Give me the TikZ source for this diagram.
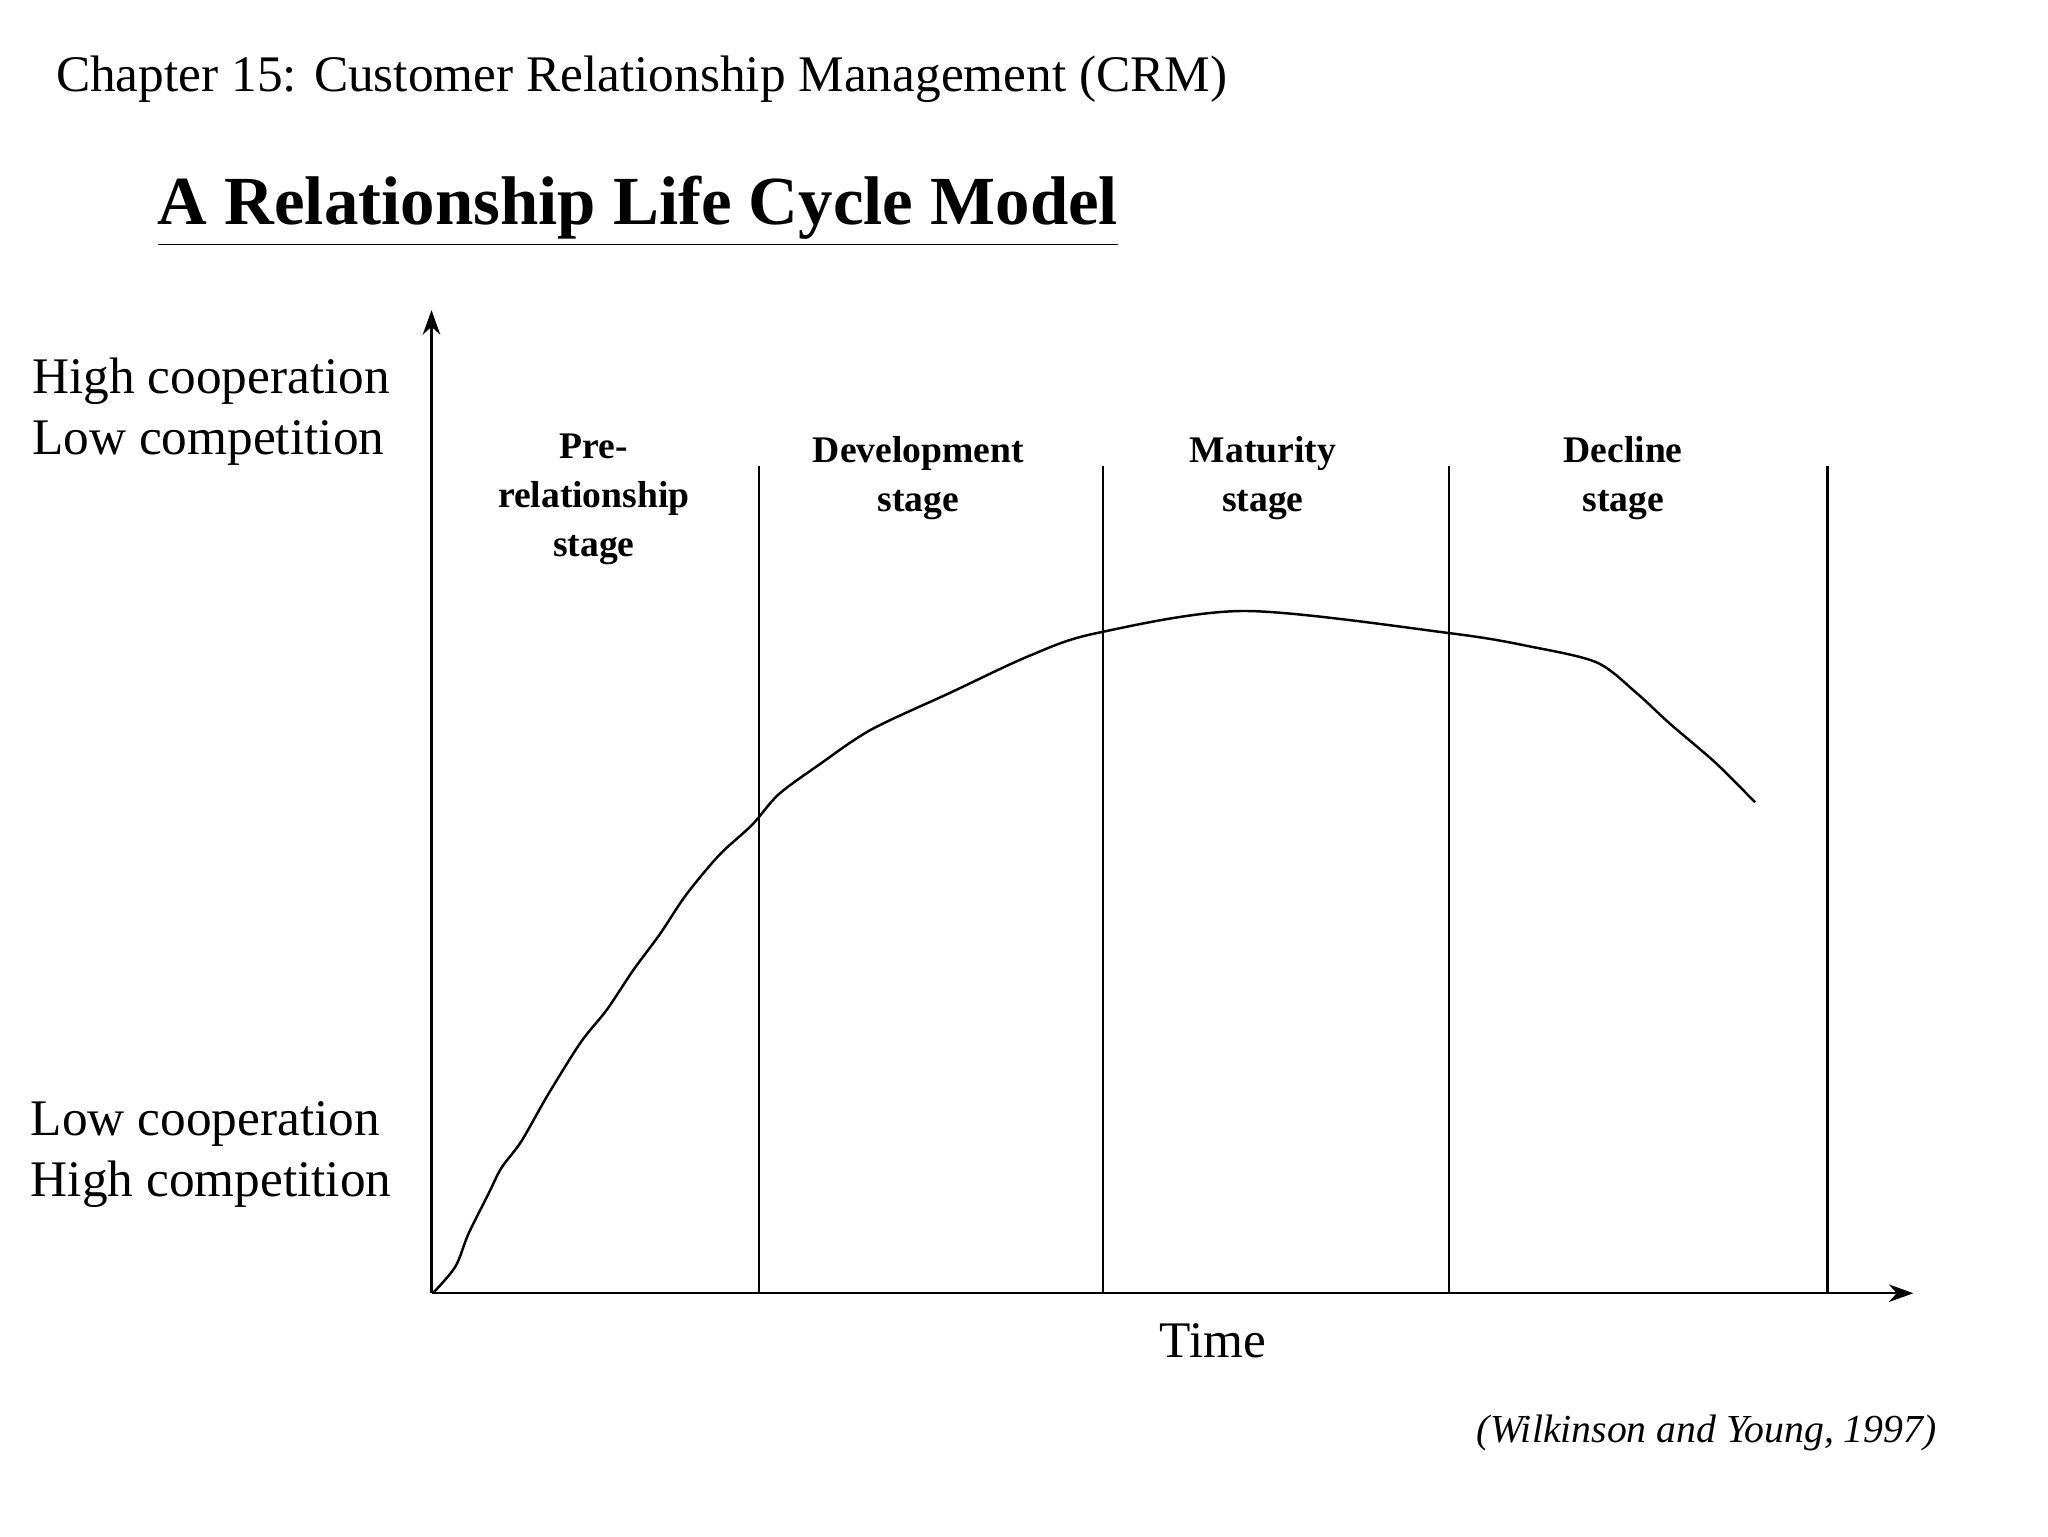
\documentclass[tikz,border=0pt]{standalone}
\usepackage{fontspec}
\setmainfont{Liberation Serif}
\usetikzlibrary{arrows.meta}
\begin{document}
\begin{tikzpicture}[x=0.013196cm,y=-0.013196cm,
  lbl/.style={font=\fontsize{14.6}{17.5}\selectfont,align=left,inner sep=0pt},
  stg/.style={font=\bfseries\fontsize{10.7}{14}\selectfont,align=center,inner sep=0pt},
  ln/.style={line width=0.7pt},
  arr/.style={-{Stealth[length=7pt,width=5pt]}}]
\useasboundingbox (0,0) rectangle (1552,1164);
\node[lbl,anchor=west] (ch) at (42,60) {Chapter 15: Customer Relationship Management (CRM)};
\node[anchor=west,inner sep=0pt,font=\bfseries\fontsize{19.6}{23}\selectfont] (tt) at (119,160) {\underline{A Relationship Life Cycle Model}};
\coordinate (o) at (327,980);
\coordinate (yt) at (327,235);
\coordinate (xt) at (1450,980);
\draw[ln,arr] (o) -- (yt);
\draw[ln,arr] (o) -- (xt);
\foreach \x/\n in {575/a,836/b,1098/c,1385/d}{
  \coordinate (t\n) at (\x,353); \coordinate (b\n) at (\x,980);
  \draw[ln] (t\n) -- (b\n);}
\node[lbl] (hc) at (160,312) {High cooperation\\Low competition};
\node[lbl] (lc) at (160,875) {Low cooperation\\High competition};
\node[lbl] (time) at (919,1016) {Time};
\node[anchor=east,inner sep=0pt,font=\itshape\fontsize{11.3}{14}\selectfont] (cit) at (1468,1086) {(Wilkinson and Young, 1997)};
\node[stg,anchor=north] (s1) at (450,328) {Pre-\\relationship\\stage};
\node[stg,anchor=north] (s2) at (696,330) {Development\\stage};
\node[stg,anchor=north] (s3) at (957,330) {Maturity\\stage};
\node[stg,anchor=north] (s4) at (1230,330) {Decline\\stage};
\draw[ln] plot[smooth,tension=0.5] coordinates {(328,980)(345,960)(355,935)(370,905)(380,885)(395,865)(415,830)(440,790)(460,765)(480,735)(500,708)(520,678)(545,648)(570,625)(590,602)(620,580)(660,553)(720,525)(780,497)(830,480)(943,463)(1100,480)(1160,490)(1210,502)(1240,525)(1265,548)(1300,578)(1330,608)};
\end{tikzpicture}
\end{document}
